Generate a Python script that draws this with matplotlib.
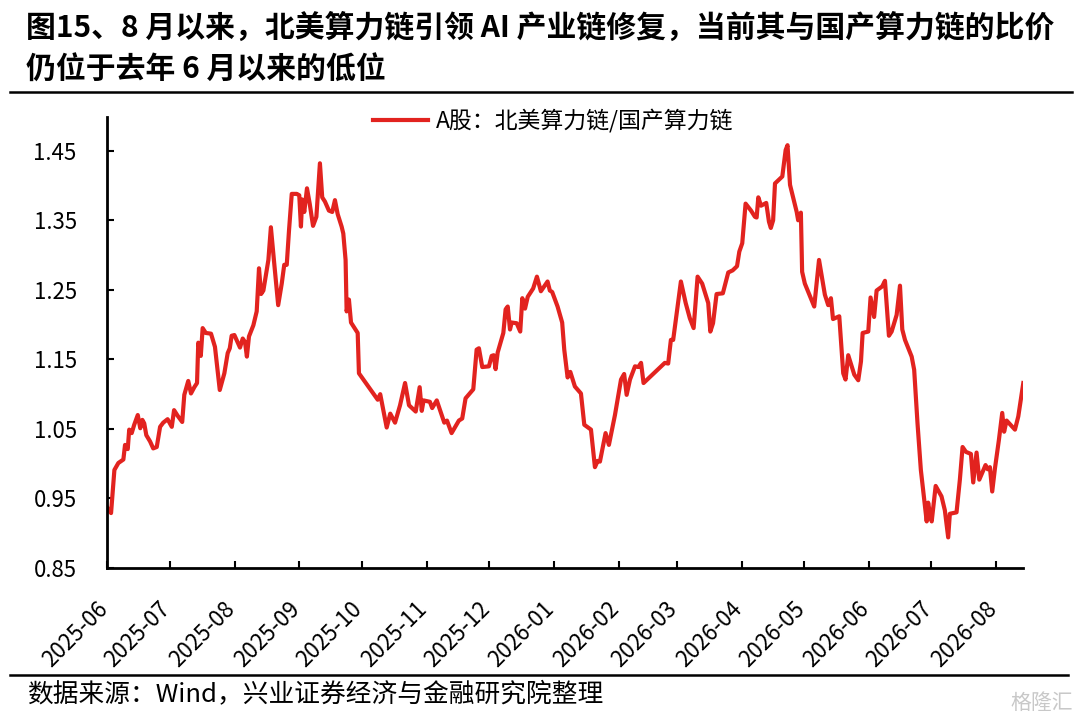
import matplotlib
matplotlib.use("Agg")
import matplotlib.pyplot as plt
import matplotlib.dates as mdates
import matplotlib.transforms as mtransforms
import numpy as np
import pandas as pd
from matplotlib.lines import Line2D

plt.rcParams['font.family'] = ['Noto Sans CJK SC', 'DejaVu Sans']
plt.rcParams['axes.unicode_minus'] = False

# ---------------- data ----------------
start_date = "2025-06-01"
day_offsets = [
    0.2, 1.8, 3.4, 5.3, 7.7, 8.5, 9.8, 10.5, 11.7, 12.9, 14.6, 15.8, 16.8, 17.7, 18.7,
    20.5, 22.0, 23.7, 25.3, 26.8, 28.9, 30.9, 32.0, 33.7, 35.9, 36.9, 38.8, 40.1, 41.7,
    43.0, 43.6, 44.8, 45.7, 47.2, 49.7, 51.6, 53.9, 56.1, 57.7, 58.7, 59.6, 60.9, 63.6,
    64.9, 66.0, 66.9, 67.9, 70.0, 71.6, 72.7, 73.7, 74.8, 75.9, 77.2, 78.4, 80.0, 81.9,
    83.6, 84.8, 86.0, 87.1, 88.4, 90.8, 92.0, 92.8, 93.4, 94.4, 95.7, 97.0, 98.6, 100.2,
    101.9, 103.0, 104.3, 106.2, 107.8, 109.1, 110.4, 112.3, 113.1, 114.2, 114.7, 115.8,
    116.8, 120.0, 120.6, 129.6, 130.8, 133.9, 135.6, 137.9, 140.3, 142.7, 144.6, 147.8,
    149.7, 150.7, 151.6, 154.6, 155.7, 157.9, 161.5, 162.8, 165.0, 168.5, 170.1, 171.7,
    175.4, 177.0, 178.1, 179.7, 182.9, 184.2, 185.2, 186.1, 187.1, 189.8, 190.9, 191.9,
    193.0, 193.8, 196.2, 197.9, 198.9, 200.2, 201.5, 204.1, 205.9, 207.8, 211.0, 212.1,
    213.2, 215.8, 218.0, 219.0, 220.6, 221.9, 224.1, 227.0, 228.6, 231.8, 233.7, 235.0,
    236.1, 238.8, 240.4, 243.3, 246.2, 247.7, 248.9, 250.5, 252.9, 254.5, 255.8, 257.0,
    267.2, 268.8, 270.1, 271.2, 274.9, 277.2, 279.2, 281.0, 282.9, 285.1, 288.0, 289.0,
    290.3, 292.0, 295.0, 297.6, 299.7, 301.8, 302.9, 304.3, 305.9, 308.5, 310.4, 311.2,
    312.0, 313.3, 315.8, 317.1, 318.0, 319.1, 320.0, 323.5, 325.1, 326.0, 327.2, 330.4,
    331.1, 332.4, 333.0, 334.3, 338.8, 341.1, 343.9, 345.5, 346.8, 347.8, 350.8, 352.7,
    353.8, 355.1, 358.0, 359.9, 361.2, 362.0, 364.7, 365.8, 367.5, 368.7, 371.4, 372.7,
    374.6, 375.9, 378.3, 379.9, 381.0, 382.3, 385.5, 386.7, 388.3, 389.9, 392.7, 393.4,
    394.2, 395.1, 397.0, 399.8, 401.4, 403.0, 403.8, 407.0, 408.6, 409.9, 411.5, 413.9,
    415.0, 416.6, 417.9, 420.9, 421.9, 423.0, 424.1, 425.4, 427.3, 428.9, 429.8, 431.0,
    435.0, 436.6, 439.0,
]
ratio = [
    0.936, 0.929, 0.991, 1.001, 1.006, 1.027, 1.021, 1.049, 1.044, 1.056, 1.070, 1.051, 1.063, 1.058, 1.041,
    1.032, 1.022, 1.024, 1.053, 1.059, 1.064, 1.053, 1.077, 1.069, 1.060, 1.099, 1.119, 1.101, 1.110,
    1.116, 1.174, 1.155, 1.195, 1.188, 1.187, 1.168, 1.106, 1.130, 1.159, 1.166, 1.184, 1.185, 1.167,
    1.180, 1.175, 1.154, 1.183, 1.199, 1.219, 1.281, 1.244, 1.249, 1.269, 1.293, 1.340, 1.288, 1.228,
    1.259, 1.286, 1.286, 1.336, 1.388, 1.388, 1.386, 1.341, 1.380, 1.362, 1.396, 1.374, 1.342, 1.355,
    1.432, 1.383, 1.377, 1.364, 1.362, 1.379, 1.359, 1.341, 1.331, 1.293, 1.219, 1.236,
    1.203, 1.188, 1.130, 1.092, 1.100, 1.052, 1.072, 1.059, 1.084, 1.116, 1.084, 1.075,
    1.110, 1.076, 1.091, 1.089, 1.080, 1.091, 1.059, 1.062, 1.044, 1.062, 1.065, 1.094,
    1.107, 1.164, 1.166, 1.139, 1.140, 1.155, 1.156, 1.136, 1.160, 1.188, 1.222, 1.226,
    1.193, 1.203, 1.202, 1.190, 1.238, 1.223, 1.240, 1.252, 1.269, 1.248, 1.262, 1.249,
    1.247, 1.226, 1.203, 1.164, 1.124, 1.132, 1.111, 1.101, 1.056, 1.049, 0.995, 1.004,
    1.003, 1.044, 1.027, 1.070, 1.121, 1.129, 1.099, 1.121, 1.140, 1.139, 1.145, 1.116,
    1.145, 1.144, 1.178, 1.178, 1.262, 1.231, 1.209, 1.195, 1.269, 1.259, 1.231, 1.190,
    1.202, 1.244, 1.245, 1.275, 1.278, 1.284, 1.305, 1.317, 1.374, 1.364, 1.355, 1.354,
    1.383, 1.371, 1.375, 1.348, 1.339, 1.350, 1.403, 1.413, 1.451, 1.458, 1.401, 1.362,
    1.350, 1.361, 1.276, 1.259, 1.226, 1.293, 1.243, 1.228, 1.238, 1.208, 1.212, 1.130,
    1.121, 1.156, 1.128, 1.120, 1.147, 1.188, 1.190, 1.239, 1.211, 1.249, 1.255, 1.263,
    1.184, 1.190, 1.214, 1.256, 1.193, 1.178, 1.154, 1.135, 1.058, 0.991, 0.917, 0.944,
    0.929, 0.917, 0.968, 0.953, 0.933, 0.894, 0.928, 0.930, 0.977, 1.024, 1.017, 1.014,
    0.973, 1.016, 0.977, 0.998, 0.992, 0.995, 0.960, 0.993, 1.034, 1.073, 1.046, 1.062,
    1.049, 1.068, 1.116,
]
series_label = "A股：北美算力链/国产算力链"
y_ticks = [0.85, 0.95, 1.05, 1.15, 1.25, 1.35, 1.45]
title_lines = ["图15、8 月以来，北美算力链引领 AI 产业链修复，当前其与国产算力链的比价",
               "仍位于去年 6 月以来的低位"]
source_text = "数据来源：Wind，兴业证券经济与金融研究院整理"
watermark = "格隆汇"

dates = pd.Timestamp(start_date) + pd.to_timedelta(np.array(day_offsets), unit="D")

# ---------------- figure ----------------
RED = "#E2231F"
fig = plt.figure(figsize=(10.8, 7.2), dpi=100)
ax = fig.add_axes([107.3 / 1080, (720 - 568) / 720, (1023.3 - 107.3) / 1080, (568 - 116.7) / 720])

ax.plot(dates, ratio, color=RED, lw=3.0, solid_joinstyle="round", label=series_label)

ax.set_xlim(pd.Timestamp(start_date), dates[-1])
ax.set_ylim(0.85, 1.499)
ax.set_yticks(y_ticks)
ax.yaxis.set_major_formatter(matplotlib.ticker.FormatStrFormatter("%.2f"))
ax.xaxis.set_major_locator(mdates.MonthLocator())
ax.xaxis.set_major_formatter(mdates.DateFormatter("%Y-%m"))

for s in ["top", "right"]:
    ax.spines[s].set_visible(False)
for s in ["left", "bottom"]:
    ax.spines[s].set_linewidth(2.0)
    ax.spines[s].set_color("black")

ax.tick_params(axis="y", direction="in", length=5, width=1.5, pad=22, labelsize=16)
ax.tick_params(axis="x", direction="in", length=5, width=1.5, pad=21, labelsize=16)
shift = mtransforms.ScaledTranslation(5 / 100, 0, fig.dpi_scale_trans)
for lab in ax.get_xticklabels():
    lab.set_rotation(45)
    lab.set_ha("right")
    lab.set_transform(lab.get_transform() + shift)

fig.legend(handles=[Line2D([], [], color=RED, lw=3.0)], labels=[series_label],
           loc="center", bbox_to_anchor=(0.512, (720 - 121) / 720), frameon=False,
           fontsize=16.5, handlelength=2.4, handletextpad=0.35)

# title
fig.text(26 / 1080, 1 - 28 / 720, title_lines[0], fontsize=21.5, fontweight="bold",
         ha="left", va="center")
fig.text(26 / 1080, 1 - 70 / 720, title_lines[1], fontsize=21.5, fontweight="bold",
         ha="left", va="center")

# rules
fig.add_artist(Line2D([10 / 1080, 1072 / 1080], [1 - 92 / 720, 1 - 92 / 720],
                      color="black", lw=1.8, transform=fig.transFigure))
fig.add_artist(Line2D([10 / 1080, 1068 / 1080], [1 - 675 / 720, 1 - 675 / 720],
                      color="black", lw=1.8, transform=fig.transFigure))

fig.text(27 / 1080, 1 - 695 / 720, source_text, fontsize=18.5, ha="left", va="center")
fig.text(1073 / 1080, 1 - 703 / 720, watermark, fontsize=15, ha="right", va="center",
         color="#c8c8c8")

fig.savefig("out.png", dpi=100)
